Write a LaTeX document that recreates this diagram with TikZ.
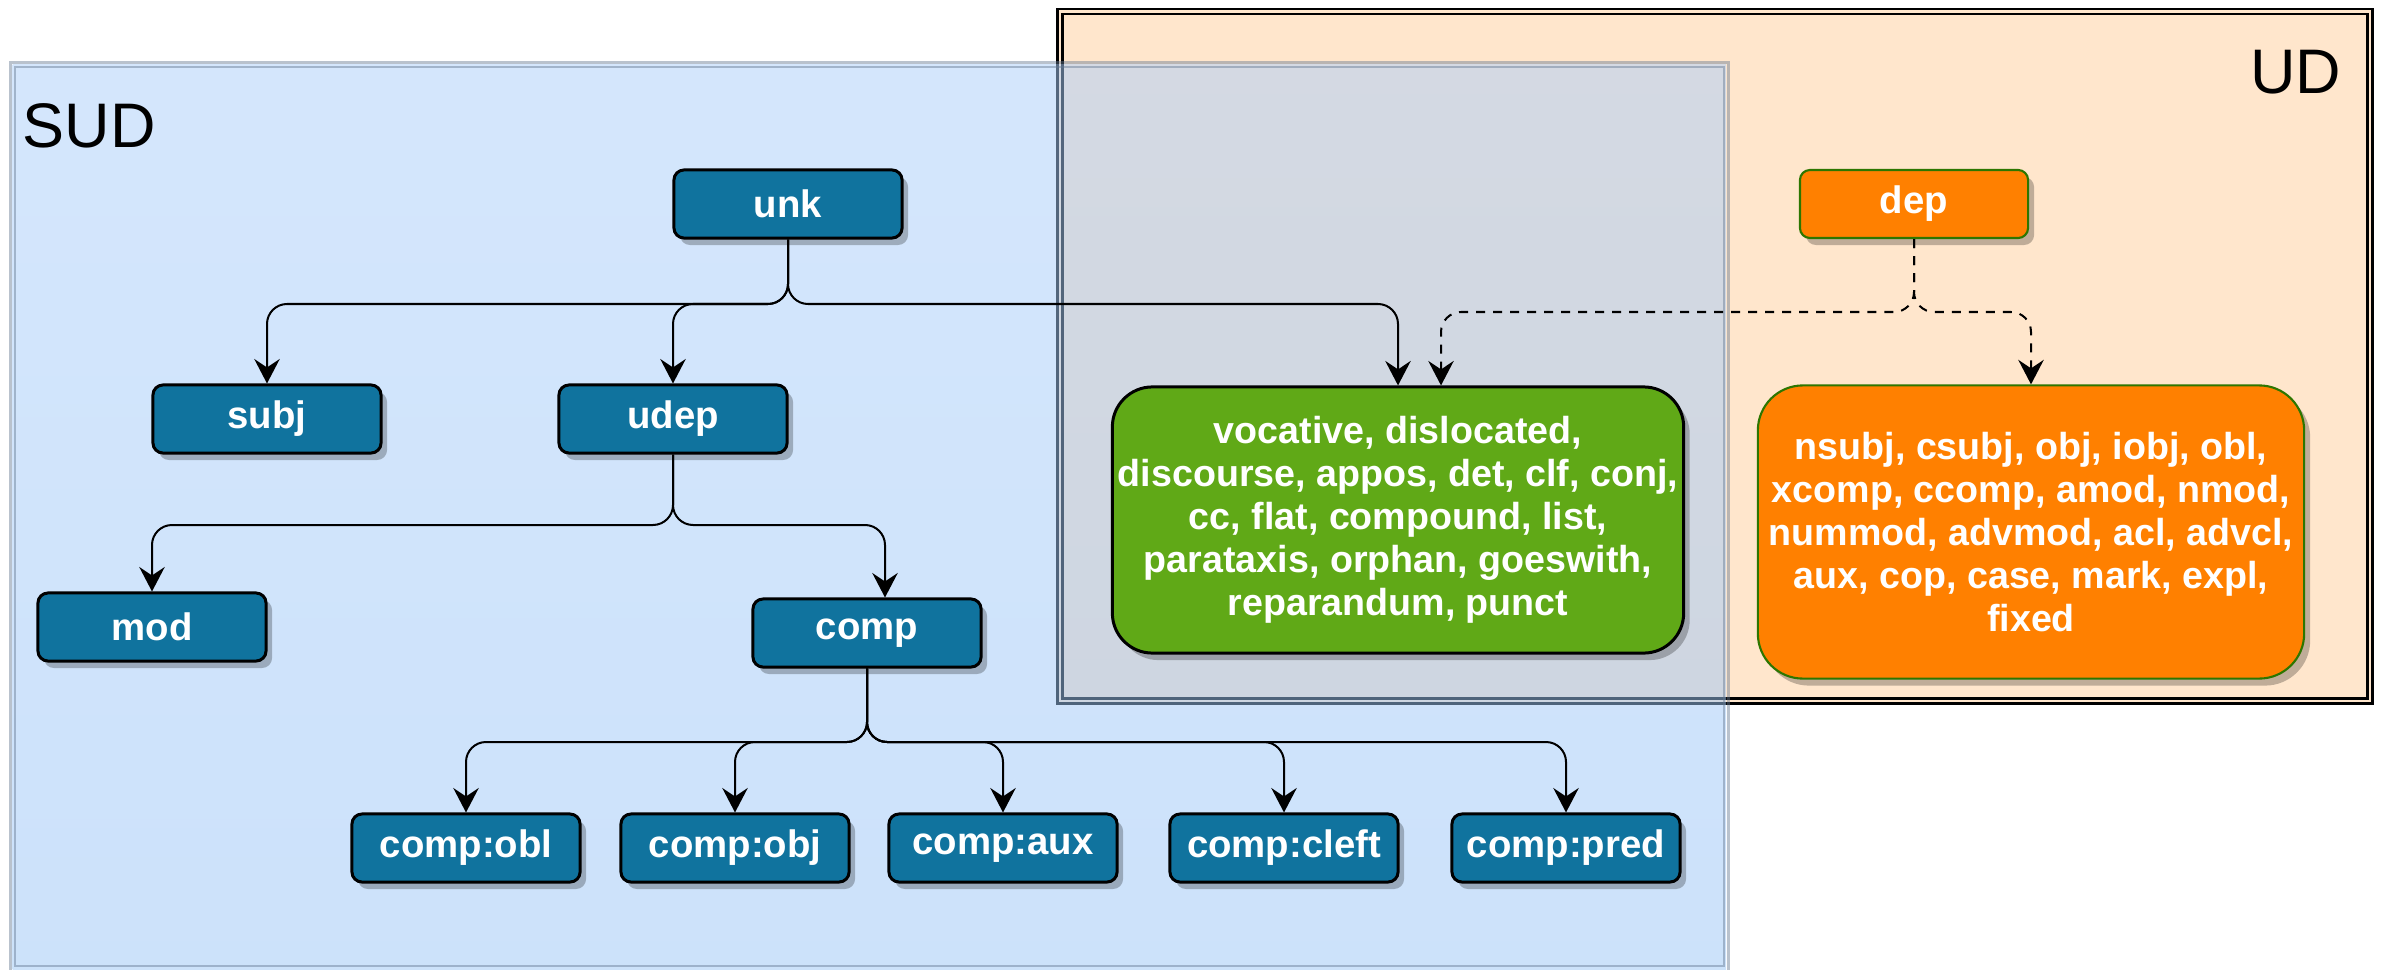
\documentclass[tikz,border=0pt]{standalone}
\usepackage{fontspec}
\setmainfont{Liberation Sans}
\usetikzlibrary{arrows.meta,shadows,calc}

\definecolor{nodeblue}{HTML}{10739E}
\definecolor{udfill}{HTML}{FFE6CC}
\definecolor{depfill}{HTML}{FF8000}
\definecolor{depline}{HTML}{2D7600}
\definecolor{catgreen}{HTML}{60A917}
\definecolor{sudtop}{RGB}{170,206,250}
\definecolor{sudbot}{RGB}{154,197,246}
\definecolor{sudline}{RGB}{100,120,145}

\begin{document}
\begin{tikzpicture}[x=0.01cm,y=-0.01cm,
  shade/.style={drop shadow={shadow xshift=0.06cm, shadow yshift=-0.07cm, fill=black, opacity=0.25}},
  blk/.style={rectangle, rounded corners=0.1cm, draw=black, line width=0.85pt,
    fill=nodeblue, text=white, font=\bfseries\fontsize{10.9}{12.6}\selectfont,
    minimum width=2.28cm, minimum height=0.68cm, inner sep=0pt, shade},
  depbox/.style={blk, fill=depfill, draw=depline, line width=0.6pt},
  catbox/.style={rectangle, text=white, align=center, inner sep=0pt, shade,
    font=\bfseries\fontsize{10.7}{12.2}\selectfont},
  edge/.style={draw=black, line width=0.57pt, rounded corners=0.2cm,
    -{Stealth[length=0.245cm,width=0.255cm,inset=0.085cm]}},
  dedge/.style={edge, dash pattern=on 0.09cm off 0.08cm},
  biglabel/.style={inner sep=0pt, font=\fontsize{17.9}{20}\selectfont}
]
\useasboundingbox (0,0) rectangle (2385,970);

% UD area with its double frame
\draw[draw=black, line width=0.7pt, double=udfill, double distance=0.025cm, fill=udfill]
  (1060,11.75) rectangle (2370,701);

% SUD area, translucent over the UD area
\path[top color=sudtop, bottom color=sudbot, fill opacity=0.5] (12.5,65) rectangle (1726,969);
\draw[sudline, draw opacity=0.45, line width=0.6pt] (10.5,62.5) rectangle (1728.5,971);
\draw[sudline, draw opacity=0.45, line width=0.6pt] (15,67) rectangle (1724,966);

\node[biglabel, anchor=base west] (sudlabel) at (22,148) {SUD};
\node[biglabel, anchor=base east] (udlabel) at (2342,94) {UD};

% junction levels
\coordinate (uj) at (0,304);
\coordinate (dj) at (0,312);
\coordinate (vj) at (0,525);
\coordinate (cj) at (0,742);

% nodes
\node[blk] (unk) at (788,204) {unk};
\node[depbox] (dep) at (1914,204) {dep};
\node[blk] (subj) at (267,419) {subj};
\node[blk] (udep) at (673,419) {udep};
\node[blk] (mod) at (152,627) {mod};
\node[blk] (comp) at (867,633) {comp};
\node[blk] (cobl) at (466,848) {comp:obl};
\node[blk] (cobj) at (735,848) {comp:obj};
\node[blk] (caux) at (1003,848) {comp:aux};
\node[blk] (ccleft) at (1284,848) {comp:cleft};
\node[blk] (cpred) at (1566,848) {comp:pred};

\node[catbox, fill=catgreen, draw=black, line width=0.85pt, rounded corners=0.4cm,
  minimum width=5.71cm, minimum height=2.66cm] (rest) at (1398,520)
  {vocative, dislocated,\\ discourse, appos, det, clf, conj,\\ cc, flat, compound, list,\\ parataxis, orphan, goeswith,\\ reparandum, punct};

\node[catbox, fill=depfill, draw=depline, line width=0.6pt, rounded corners=0.45cm,
  minimum width=5.46cm, minimum height=2.93cm] (core) at (2031,532)
  {nsubj, csubj, obj, iobj, obl,\\ xcomp, ccomp, amod, nmod,\\ nummod, advmod, acl, advcl,\\ aux, cop, case, mark, expl,\\ fixed};

% connectors from unk
\draw[edge] (unk.south) -- (unk.south |- uj) -| (subj.north);
\draw[edge] (unk.south) -- (unk.south |- uj) -| (udep.north);
\draw[edge] (unk.south) -- (unk.south |- uj) -| (rest.north);

% dashed connectors from dep
\draw[dedge] (dep.south) -- (dep.south |- dj) -| ($(rest.north)+(43,0)$);
\draw[dedge] (dep.south) -- (dep.south |- dj) -| (core.north);

% connectors from udep
\draw[edge] (udep.south) -- (udep.south |- vj) -| (mod.north);
\draw[edge] (udep.south) -- (udep.south |- vj) -| ($(comp.north)+(18,0)$);

% connectors from comp
\draw[edge] (comp.south) -- (comp.south |- cj) -| (cobl.north);
\draw[edge] (comp.south) -- (comp.south |- cj) -| (cobj.north);
\draw[edge] (comp.south) -- (comp.south |- cj) -| (caux.north);
\draw[edge] (comp.south) -- (comp.south |- cj) -| (ccleft.north);
\draw[edge] (comp.south) -- (comp.south |- cj) -| (cpred.north);
\end{tikzpicture}
\end{document}
